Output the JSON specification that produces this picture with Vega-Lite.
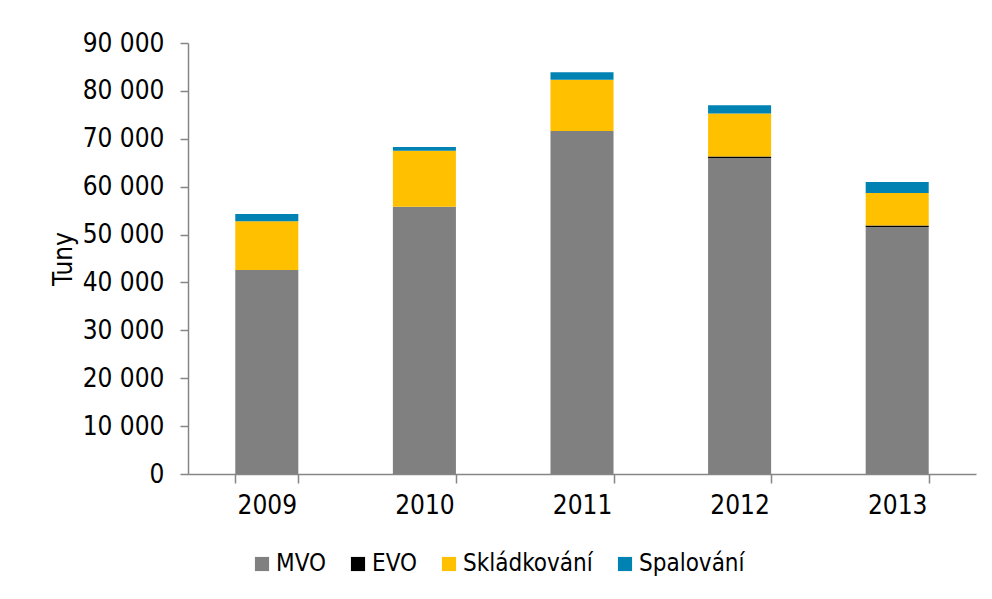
{
  "$schema": "https://vega.github.io/schema/vega-lite/v6.json",
  "autosize": "none",
  "width": 788,
  "height": 431,
  "padding": {"left": 188, "top": 43, "right": 16, "bottom": 125},
  "background": "white",
  "config": {
    "font": "DejaVu Sans Condensed, Liberation Sans, sans-serif",
    "view": {"stroke": null}
  },
  "data": {
    "values": [
      {"rok": "2009", "typ": "MVO", "o": 1, "tuny": 42600},
      {"rok": "2009", "typ": "EVO", "o": 2, "tuny": 0},
      {"rok": "2009", "typ": "Skládkování", "o": 3, "tuny": 10200},
      {"rok": "2009", "typ": "Spalování", "o": 4, "tuny": 1500},
      {"rok": "2010", "typ": "MVO", "o": 1, "tuny": 55800},
      {"rok": "2010", "typ": "EVO", "o": 2, "tuny": 0},
      {"rok": "2010", "typ": "Skládkování", "o": 3, "tuny": 11700},
      {"rok": "2010", "typ": "Spalování", "o": 4, "tuny": 800},
      {"rok": "2011", "typ": "MVO", "o": 1, "tuny": 71600},
      {"rok": "2011", "typ": "EVO", "o": 2, "tuny": 0},
      {"rok": "2011", "typ": "Skládkování", "o": 3, "tuny": 10700},
      {"rok": "2011", "typ": "Spalování", "o": 4, "tuny": 1600},
      {"rok": "2012", "typ": "MVO", "o": 1, "tuny": 66000},
      {"rok": "2012", "typ": "EVO", "o": 2, "tuny": 300},
      {"rok": "2012", "typ": "Skládkování", "o": 3, "tuny": 9000},
      {"rok": "2012", "typ": "Spalování", "o": 4, "tuny": 1700},
      {"rok": "2013", "typ": "MVO", "o": 1, "tuny": 51600},
      {"rok": "2013", "typ": "EVO", "o": 2, "tuny": 300},
      {"rok": "2013", "typ": "Skládkování", "o": 3, "tuny": 6800},
      {"rok": "2013", "typ": "Spalování", "o": 4, "tuny": 2300}
    ]
  },
  "mark": {"type": "bar"},
  "encoding": {
    "x": {
      "field": "rok",
      "type": "nominal",
      "scale": {"paddingInner": 0.6, "paddingOuter": 0.3},
      "axis": {
        "title": null,
        "labelAngle": 0,
        "labelFontSize": 26,
        "labelColor": "black",
        "labelPadding": 9,
        "tickBand": "extent",
        "tickSize": 9,
        "tickColor": "#868686",
        "domainColor": "#868686",
        "domainWidth": 1.5,
        "tickWidth": 1.5,
        "grid": false
      }
    },
    "y": {
      "field": "tuny",
      "type": "quantitative",
      "stack": "zero",
      "scale": {"domain": [0, 90000], "nice": false},
      "axis": {
        "title": "Tuny",
        "titleFontSize": 26,
        "titleFontWeight": "normal",
        "titleColor": "black",
        "titlePadding": 6,
        "values": [0, 10000, 20000, 30000, 40000, 50000, 60000, 70000, 80000, 90000],
        "labelExpr": "replace(format(datum.value, ','), ',', ' ')",
        "labelFontSize": 26,
        "labelColor": "black",
        "labelPadding": 16,
        "tickSize": 8,
        "tickColor": "#868686",
        "domainColor": "#868686",
        "domainWidth": 1.5,
        "tickWidth": 1.5,
        "grid": false
      }
    },
    "color": {
      "field": "typ",
      "type": "nominal",
      "scale": {
        "domain": ["MVO", "EVO", "Skládkování", "Spalování"],
        "range": ["#808080", "#000000", "#FFC000", "#0083B3"]
      },
      "legend": {
        "title": null,
        "orient": "none",
        "direction": "horizontal",
        "legendX": 62,
        "legendY": 509,
        "padding": 0,
        "symbolType": "square",
        "symbolSize": 200,
        "symbolStrokeWidth": 0,
        "labelFontSize": 24,
        "labelColor": "black",
        "labelOffset": 2,
        "columnPadding": 20
      }
    },
    "order": {"field": "o", "type": "quantitative"}
  }
}
